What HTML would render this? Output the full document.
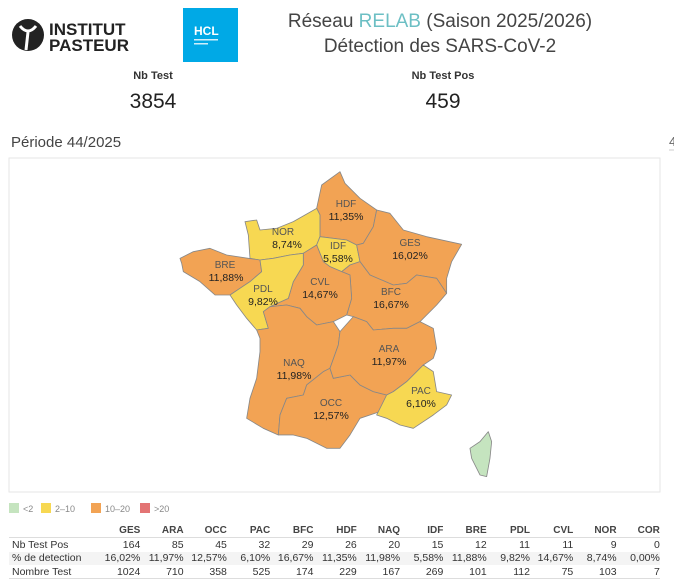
<!DOCTYPE html>
<html><head><meta charset="utf-8"><style>
body{margin:0;width:674px;height:581px;background:#fff;font-family:"Liberation Sans",sans-serif;position:relative;overflow:hidden;color:#333}
.a{position:absolute;white-space:nowrap}
.n{font-family:"Liberation Sans Narrow","Liberation Sans",sans-serif}
table{position:absolute;left:9px;top:524px;border-collapse:collapse;font-size:10.5px;color:#333}
td{height:13.3px;padding:0;text-align:right;width:43.3px}
td:first-child{text-align:left;width:85px;padding-left:3px}
tr.h td{font-weight:bold;font-size:10px;color:#444}
tr.b td{border-top:1px solid #ddd}
</style></head><body>
<svg class="a" style="left:0;top:0" width="674" height="581">
<circle cx="28" cy="35" r="16" fill="#222"/>
<path d="M20 26 Q28 36 36 26" stroke="#fff" stroke-width="3" fill="none"/>
<path d="M28 32 L26 50" stroke="#fff" stroke-width="3"/>
<text x="49" y="35" font-size="17" font-weight="bold" fill="#222" font-family="Liberation Sans">INSTITUT</text>
<text x="49" y="51" font-size="17" font-weight="bold" fill="#222" font-family="Liberation Sans">PASTEUR</text>
<rect x="183" y="8" width="55" height="54" fill="#00a9e6"/>
<text x="194" y="35" font-size="12" font-weight="bold" fill="#fff">HCL</text>
<rect x="194" y="39" width="24" height="1.5" fill="#cfeefa"/><rect x="194" y="43" width="14" height="1.5" fill="#cfeefa"/>
<rect x="9" y="158" width="651" height="334" fill="none" stroke="#e6e6e6"/>
<line x1="669" y1="150" x2="674" y2="150" stroke="#ccc"/>
<g transform="translate(160,165) scale(0.3333)" stroke="#888" stroke-width="2.5" stroke-linejoin="round">
<polygon fill="#f2a354" points="470,130 485,60 540,20 555,55 600,100 650,135 640,185 610,235 590,240 560,225 480,215 480,150"/>
<polygon fill="#f7d852" points="255,170 290,165 300,195 350,190 400,170 470,130 480,150 480,215 470,240 430,265 390,270 340,280 300,285 270,280 265,210"/>
<polygon fill="#f7d852" points="480,215 560,225 590,240 600,290 570,300 545,320 510,305 490,290 470,240"/>
<polygon fill="#f2a354" points="650,135 690,145 730,195 800,215 905,238 875,290 860,340 860,385 830,340 770,330 740,355 700,360 630,330 600,290 590,240 610,235 640,185"/>
<polygon fill="#f2a354" points="600,290 630,330 700,360 740,355 770,330 830,340 860,385 830,420 780,470 740,490 700,490 640,495 620,470 580,455 560,450 575,400 570,330 545,320 570,300"/>
<polygon fill="#f2a354" points="430,265 470,240 490,290 510,305 545,320 570,330 575,400 560,450 520,470 470,480 440,455 420,430 380,420 330,425 385,400 400,350 430,300"/>
<polygon fill="#f2a354" points="60,280 100,260 150,250 200,270 265,280 300,285 305,320 270,350 240,370 210,390 165,390 120,350 70,320 65,295"/>
<polygon fill="#f7d852" points="300,285 340,280 390,270 430,265 430,300 400,350 385,400 330,425 310,440 325,490 290,495 260,460 230,420 210,390 240,370 270,350 305,320"/>
<polygon fill="#f2a354" points="290,495 325,490 310,440 330,425 380,420 420,430 440,455 470,480 520,470 540,500 535,540 510,610 490,620 440,660 430,690 380,700 360,750 355,810 310,790 260,760 270,700 290,640 300,560 300,520"/>
<polygon fill="#f2a354" points="510,610 520,640 570,630 600,660 640,680 680,690 660,740 600,760 570,810 540,850 500,850 440,820 400,810 355,810 360,750 380,700 430,690 440,660 490,620"/>
<polygon fill="#f2a354" points="540,500 580,455 620,470 640,495 700,490 740,490 780,470 820,490 830,550 820,580 790,600 770,620 740,650 700,680 680,690 640,680 600,660 570,630 520,640 510,610 535,540"/>
<polygon fill="#f7d852" points="790,600 820,620 830,680 875,690 860,720 820,750 760,790 720,780 680,760 650,750 680,690 700,680 740,650 770,620"/>
<polygon fill="#c5e4bf" points="985,800 995,830 990,880 980,935 960,930 935,880 930,850 960,830"/>
</g>
<g font-size="10.5" text-anchor="middle" fill="#222" font-family="Liberation Sans">
<g fill="#555" font-size="10"><text x="346" y="207">HDF</text><text x="283" y="235">NOR</text><text x="338" y="249">IDF</text><text x="410" y="246">GES</text><text x="225" y="268">BRE</text><text x="320" y="285">CVL</text><text x="263" y="292">PDL</text><text x="391" y="295">BFC</text><text x="389" y="352">ARA</text><text x="294" y="366">NAQ</text><text x="421" y="394">PAC</text><text x="331" y="406">OCC</text></g>
<text x="346" y="220">11,35%</text><text x="287" y="248">8,74%</text><text x="338" y="262">5,58%</text><text x="410" y="259">16,02%</text><text x="226" y="281">11,88%</text><text x="320" y="298">14,67%</text><text x="263" y="305">9,82%</text><text x="391" y="308">16,67%</text><text x="389" y="365">11,97%</text><text x="294" y="379">11,98%</text><text x="421" y="407">6,10%</text><text x="331" y="419">12,57%</text>
</g>
<g font-size="9" fill="#888"><rect x="9" y="503" width="10" height="10" fill="#c5e4bf"/><text x="23" y="512">&lt;2</text>
<rect x="41" y="503" width="10" height="10" fill="#f7d852"/><text x="55" y="512">2–10</text>
<rect x="91" y="503" width="10" height="10" fill="#f2a354"/><text x="105" y="512">10–20</text>
<rect x="140" y="503" width="10" height="10" fill="#e37474"/><text x="154" y="512">&gt;20</text></g>
</svg>
<div class="a" style="left:0;width:880px;text-align:center;top:11px;font-size:19px;color:#444">Réseau <span style="color:#6cbfc4">RELAB</span> (Saison 2025/2026)</div>
<div class="a" style="left:0;width:880px;text-align:center;top:36px;font-size:19px;color:#444">Détection des SARS-CoV-2</div>
<div class="a n" style="left:103px;width:100px;text-align:center;top:70px;font-size:11px;font-weight:bold">Nb Test</div>
<div class="a" style="left:103px;width:100px;text-align:center;top:90px;font-size:21px;color:#222">3854</div>
<div class="a n" style="left:393px;width:100px;text-align:center;top:70px;font-size:11px;font-weight:bold">Nb Test Pos</div>
<div class="a" style="left:393px;width:100px;text-align:center;top:90px;font-size:21px;color:#222">459</div>
<div class="a" style="left:11px;top:134px;font-size:15px;color:#444">Période 44/2025</div>
<div class="a" style="left:669px;top:134px;font-size:13px;color:#666">4</div>
<table>
<tr class="h"><td></td><td>GES</td><td>ARA</td><td>OCC</td><td>PAC</td><td>BFC</td><td>HDF</td><td>NAQ</td><td>IDF</td><td>BRE</td><td>PDL</td><td>CVL</td><td>NOR</td><td>COR</td></tr>
<tr class="b"><td>Nb Test Pos</td><td>164</td><td>85</td><td>45</td><td>32</td><td>29</td><td>26</td><td>20</td><td>15</td><td>12</td><td>11</td><td>11</td><td>9</td><td>0</td></tr>
<tr style="background:#f4f4f4"><td>% de detection</td><td>16,02%</td><td>11,97%</td><td>12,57%</td><td>6,10%</td><td>16,67%</td><td>11,35%</td><td>11,98%</td><td>5,58%</td><td>11,88%</td><td>9,82%</td><td>14,67%</td><td>8,74%</td><td>0,00%</td></tr>
<tr style="border-bottom:1px solid #ddd"><td>Nombre Test</td><td>1024</td><td>710</td><td>358</td><td>525</td><td>174</td><td>229</td><td>167</td><td>269</td><td>101</td><td>112</td><td>75</td><td>103</td><td>7</td></tr>
</table>
</body></html>
